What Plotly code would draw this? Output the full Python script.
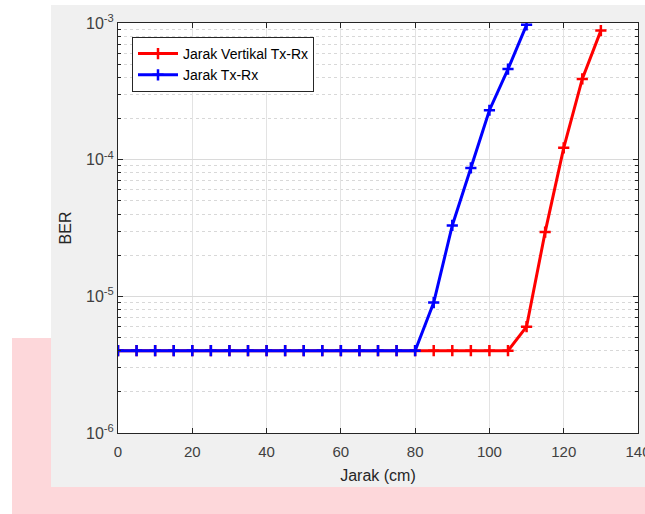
import plotly.graph_objects as go

# Distance (cm) and measured bit error rate
jarak_vertikal = [0, 5, 10, 15, 20, 25, 30, 35, 40, 45, 50, 55, 60, 65, 70, 75, 80,
                  85, 90, 95, 100, 105, 110, 115, 120, 125, 130]
ber_vertikal = [4e-6] * 22 + [6e-6, 2.95e-5, 1.22e-4, 3.9e-4, 8.8e-4]

jarak_txrx = [0, 5, 10, 15, 20, 25, 30, 35, 40, 45, 50, 55, 60, 65, 70, 75, 80,
              85, 90, 95, 100, 105, 110]
ber_txrx = [4e-6] * 17 + [9e-6, 3.3e-5, 8.7e-5, 2.3e-4, 4.6e-4, 9.7e-4]

y_ticks = [1e-6, 1e-5, 1e-4, 1e-3]
y_ticktext = ["10<sup>-6</sup>", "10<sup>-5</sup>", "10<sup>-4</sup>", "10<sup>-3</sup>"]

W, H = 645, 514
L, R, T, B = 118, 7, 23, 81
pw, ph = W - L - R, H - T - B


def px(x):
    return (x - L) / pw


def py(y):
    return (H - B - y) / ph


fig = go.Figure()
fig.add_trace(go.Scatter(
    x=jarak_vertikal, y=ber_vertikal, mode="lines+markers",
    name="Jarak Vertikal Tx-Rx",
    line=dict(color="#ff0000", width=3),
    marker=dict(symbol="cross-thin", size=8, line=dict(color="#ff0000", width=2.5)),
))
fig.add_trace(go.Scatter(
    x=jarak_txrx, y=ber_txrx, mode="lines+markers",
    name="Jarak Tx-Rx",
    line=dict(color="#0000ff", width=3),
    marker=dict(symbol="cross-thin", size=8, line=dict(color="#0000ff", width=2.5)),
))

# figure backdrop panels and white axes area
fig.add_shape(type="rect", xref="paper", yref="paper", layer="below",
              x0=px(12), x1=px(650), y0=py(520), y1=py(338),
              fillcolor="#fdd7da", line_width=0)
fig.add_shape(type="rect", xref="paper", yref="paper", layer="below",
              x0=px(51), x1=px(650), y0=py(487), y1=py(5),
              fillcolor="#f0f0f0", line_width=0)
fig.add_shape(type="rect", xref="paper", yref="paper", layer="below",
              x0=0, x1=1, y0=0, y1=1,
              fillcolor="white", line_width=0)

font_main = "Liberation Sans, Arial, sans-serif"
fig.update_layout(
    width=W, height=H,
    margin=dict(l=L, r=R, t=T, b=B, autoexpand=False),
    paper_bgcolor="white", plot_bgcolor="white",
    font=dict(family=font_main, color="#262626", size=14),
    showlegend=True,
    legend=dict(x=px(132), y=py(37), xanchor="left", yanchor="top",
                bgcolor="white", bordercolor="#262626", borderwidth=1,
                font=dict(size=14, color="#000000"),
                tracegroupgap=0, itemwidth=40),
)
fig.update_xaxes(
    range=[0, 140], dtick=20, tick0=0, automargin=False,
    showline=True, linecolor="#262626", linewidth=1, mirror="ticks",
    ticks="inside", ticklen=5, tickcolor="#262626",
    showgrid=True, gridcolor="#e3e3e3", gridwidth=1,
    zeroline=False, ticklabeloverflow="allow", ticklabelstandoff=5,
    tickfont=dict(size=15, color="#404040"),
    title=dict(text="Jarak (cm)", font=dict(size=16, color="#262626"), standoff=10),
)
fig.update_yaxes(
    type="log", range=[-6, -3], automargin=False,
    tickvals=y_ticks, ticktext=y_ticktext,
    showline=True, linecolor="#262626", linewidth=1, mirror="ticks",
    ticks="inside", ticklen=5, tickcolor="#262626",
    showgrid=True, gridcolor="#dadada", gridwidth=1,
    minor=dict(dtick="D1", ticks="inside", ticklen=3, tickcolor="#262626",
               showgrid=True, gridcolor="#d8d8d8", griddash="dot", gridwidth=1),
    zeroline=False,
    tickfont=dict(size=16, color="#404040"),
    title=dict(text="BER", font=dict(size=16, color="#262626"), standoff=10),
)

fig.write_html("out.html")
